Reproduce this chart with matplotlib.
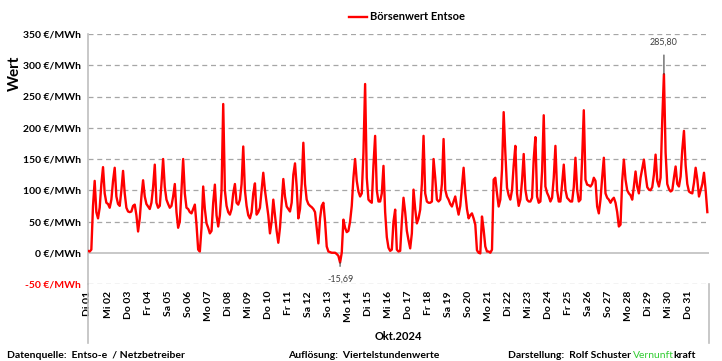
import matplotlib.pyplot as plt
from matplotlib.lines import Line2D
import numpy as np

# Börsenwert Entsoe in €/MWh, every 2 hours
# (00, 02, 04, ... 22 Uhr), one row per day
week1 = [
    3, 2, 5, 75, 115, 65, 55, 72, 110, 137, 95, 80,          # Di 01
    78, 72, 85, 115, 136, 90, 78, 75, 100, 131, 95, 72,      # Mi 02
    66, 65, 66, 75, 77, 60, 34, 55, 90, 116, 90, 78,         # Do 03
    74, 70, 80, 105, 141, 80, 72, 75, 110, 150, 105, 85,     # Fr 04
    78, 72, 75, 90, 110, 65, 40, 50, 100, 150, 95, 72,       # Sa 05
    70, 65, 63, 70, 77, 45, 5, 2, 40, 106, 70, 47,           # So 06
]
week2 = [
    40, 31, 35, 80, 109, 60, 42, 60, 100, 238, 100, 75,      # Mo 07
    65, 61, 70, 95, 110, 80, 77, 85, 110, 170, 100, 75,      # Di 08
    60, 55, 65, 95, 111, 61, 65, 72, 100, 128, 100, 80,      # Mi 09
    60, 31, 50, 85, 60, 35, 16, 40, 80, 118, 90, 74,         # Do 10
    70, 66, 80, 125, 143, 106, 55, 70, 110, 176, 110, 85,    # Fr 11
    78, 75, 73, 70, 65, 40, 15, 55, 75, 80, 50, 10,          # Sa 12
    2, 1, 0, 0, 0, -2, -5, -15.69, 0, 53, 40, 33,            # So 13
]
week3 = [
    35, 50, 75, 120, 150, 115, 98, 90, 95, 160, 270, 120,    # Mo 14
    85, 82, 80, 140, 187, 100, 82, 82, 95, 139, 65, 25,      # Di 15
    8, 3, 5, 50, 69, 5, 2, 3, 50, 88, 65, 35,                # Mi 16
    20, 7, 31, 101, 70, 47, 55, 69, 110, 187, 95, 82,        # Do 17
    80, 80, 82, 150, 120, 85, 82, 85, 110, 182, 101, 90,     # Fr 18
    85, 78, 74, 82, 90, 74, 61, 75, 106, 136, 96, 70,        # Sa 19
    55, 60, 63, 55, 45, 4, 0, -1, 58, 37, 10, 2,             # So 20
]
week4 = [
    2, 0, 5, 117, 120, 95, 74, 85, 133, 225, 160, 104,       # Mo 21
    92, 85, 100, 140, 171, 95, 75, 85, 115, 158, 101, 85,    # Di 22
    82, 82, 88, 150, 185, 90, 80, 82, 130, 220, 106, 96,     # Mi 23
    90, 82, 88, 120, 171, 100, 82, 82, 110, 141, 101, 88,    # Do 24
    85, 82, 82, 105, 152, 101, 82, 85, 150, 228, 117, 109,   # Fr 25
    108, 106, 110, 120, 115, 74, 63, 85, 120, 152, 95, 88,   # Sa 26
    85, 80, 85, 88, 80, 65, 42, 45, 115, 149, 117, 100,      # So 27
]
week5 = [
    95, 92, 85, 106, 130, 106, 95, 120, 135, 149, 125, 105,  # Mo 28
    101, 100, 105, 125, 157, 115, 106, 120, 213, 285.8, 160, 110,  # Di 29
    102, 98, 100, 120, 138, 110, 106, 122, 165, 195, 140, 110,     # Mi 30
    98, 96, 95, 112, 136, 117, 90, 100, 110, 128, 100, 65,   # Do 31
]

weekdays = ["Di", "Mi", "Do", "Fr", "Sa", "So", "Mo"]
n_days = 31
y_ticks = [-50, 0, 50, 100, 150, 200, 250, 300, 350]

prices = np.array(week1 + week2 + week3 + week4 + week5)
x = np.arange(len(prices)) / 12

plt.rcParams["font.family"] = ["Lato", "DejaVu Sans"]

fig = plt.figure(figsize=(7.22, 3.61), dpi=100)
ax = fig.add_axes([88 / 722, 77 / 361, 621 / 722, 250 / 361])

grid_col = "#a6a6a6"

ax.plot(x, prices, color="#ff0000", linewidth=1.7, label="Börsenwert Entsoe", zorder=3)

ax.set_xlim(0, n_days)
ax.set_ylim(-50, 350)

for v in y_ticks:
    if v == 0:
        ax.axhline(v, color="#bfbfbf", linewidth=1.2, zorder=2)
    else:
        ax.axhline(v, color=grid_col, linewidth=0.9, linestyle=(0, (4, 3)), zorder=1)

ax.set_yticks(y_ticks)
ax.set_yticklabels([f"{v} €/MWh" for v in y_ticks], fontsize=7.5, fontweight="bold")
ax.get_yticklabels()[0].set_color("#ff0000")

day_labels = [f"{weekdays[d % 7]} {d + 1:02d}" for d in range(n_days)]
ax.set_xticks(np.arange(n_days))
ax.set_xticklabels(day_labels, rotation=90, fontsize=7.5, fontweight="bold", va="top")
ax.tick_params(axis="both", length=0, pad=5)

for side in ["top", "right", "bottom"]:
    ax.spines[side].set_visible(False)
ax.spines["left"].set_color("#bfbfbf")
ax.spines["left"].set_linewidth(1.2)

# frame around the date labels below the plot
fig.add_artist(Line2D([88 / 722, 88 / 722], [18 / 361, 77 / 361], color="#bfbfbf", linewidth=1.2))
fig.add_artist(Line2D([709 / 722, 709 / 722], [18 / 361, 77 / 361], color="#bfbfbf", linewidth=1.2))

# min / max labels
i_min = int(np.argmin(prices))
i_max = int(np.argmax(prices))
for i, dy in [(i_min, -12), (i_max, 23)]:
    ax.annotate(f"{prices[i]:.2f}".replace(".", ","), xy=(x[i], prices[i]),
                xytext=(0, dy), textcoords="offset points",
                ha="center", va="center", fontsize=6.5, color="#404040",
                arrowprops=dict(arrowstyle="-", color="#404040", linewidth=0.8,
                                shrinkA=4, shrinkB=0))

ax.legend(loc="center", bbox_to_anchor=(407 / 722, 344 / 361), bbox_transform=fig.transFigure,
          frameon=False, handlelength=1.6, handletextpad=0.3,
          prop={"weight": "bold", "size": 8})

fig.text(15 / 722, 288 / 361, "Wert", rotation=90, ha="center", va="center",
         fontsize=11, fontweight="bold")
fig.text(398 / 722, 24 / 361, "Okt.2024", ha="center", va="center",
         fontsize=8, fontweight="bold")

fig.text(7 / 722, 6 / 361, "Datenquelle:  Entso-e  / Netzbetreiber", ha="left", va="center",
         fontsize=7.5, fontweight="bold")
fig.text(288 / 722, 6 / 361, "Auflösung:  Viertelstundenwerte", ha="left", va="center",
         fontsize=7.5, fontweight="bold")
fig.text(508 / 722, 6 / 361, "Darstellung:  Rolf Schuster", ha="left", va="center",
         fontsize=7.5, fontweight="bold")
green = fig.text(633 / 722, 6 / 361, "Vernunft", ha="left", va="center",
                 fontsize=7.5, color="#33cc33")
fig.canvas.draw()
bb = green.get_window_extent()
fig.text((bb.x1 - 1) / 722, 6 / 361, "kraft", ha="left", va="center",
         fontsize=7.5, fontweight="bold")

fig.savefig("out.png", dpi=100)
